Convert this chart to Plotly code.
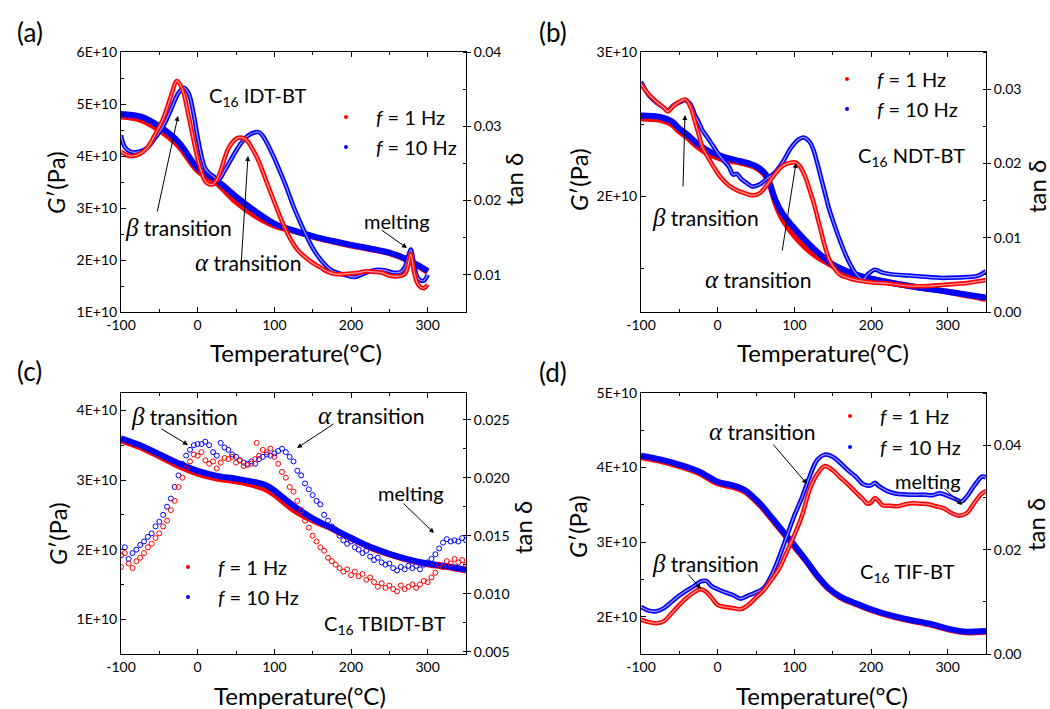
import plotly.graph_objects as go

W, H = 1050, 709
RED = '#ff0000'
BLUE = '#0000ff'
FONT = 'Lato'

# ---------------- Panel (a): C16 IDT-BT ----------------
Ta_G = [-100, -75, -50, -25, 0, 25, 50, 75, 100, 125, 150, 175, 200, 225, 250, 275, 290, 300]
Ga_1Hz = [4.76e10, 4.70e10, 4.50e10, 4.20e10, 3.72e10, 3.48e10, 3.12e10, 2.85e10, 2.66e10, 2.56e10,
          2.45e10, 2.36e10, 2.28e10, 2.21e10, 2.13e10, 1.99e10, 1.86e10, 1.77e10]
Ga_10Hz = [4.81e10, 4.76e10, 4.57e10, 4.27e10, 3.77e10, 3.53e10, 3.22e10, 2.94e10, 2.70e10, 2.57e10,
           2.46e10, 2.37e10, 2.29e10, 2.22e10, 2.14e10, 2.00e10, 1.88e10, 1.79e10]
Ta_tan1 = [-100, -92, -85, -75, -65, -55, -45, -35, -27, -20, -12, -5, 0, 5, 10, 15, 20, 25, 30, 40,
           50, 55, 60, 65, 70, 75, 80, 90, 100, 110, 120, 130, 140, 150, 160, 170, 180, 190, 200, 210,
           220, 230, 240, 250, 260, 270, 275, 278, 282, 286, 290, 295, 300]
tana_1Hz = [0.0266, 0.0261, 0.0260, 0.0263, 0.0272, 0.0290, 0.0310, 0.0340, 0.0361, 0.0350, 0.0315,
            0.0280, 0.0256, 0.0238, 0.0226, 0.0222, 0.0222, 0.0228, 0.0240, 0.0270, 0.0283, 0.0285,
            0.0284, 0.0280, 0.0272, 0.0263, 0.0252, 0.0225, 0.0198, 0.0172, 0.0150, 0.0134, 0.0124,
            0.0116, 0.0110, 0.0104, 0.0101, 0.0101, 0.0102, 0.0103, 0.0105, 0.0104, 0.0103, 0.0099,
            0.0098, 0.0101, 0.0115, 0.0128, 0.0105, 0.0090, 0.0084, 0.0082, 0.0087]
Ta_tan10 = [-100, -95, -88, -75, -65, -55, -45, -35, -25, -18, -12, -5, 0, 5, 10, 15, 20, 27, 35, 45,
            55, 65, 75, 80, 85, 95, 105, 115, 125, 135, 145, 155, 165, 175, 185, 195, 205, 215, 225,
            235, 245, 255, 265, 270, 275, 278, 282, 286, 290, 295, 300]
tana_10Hz = [0.0288, 0.0272, 0.0266, 0.0266, 0.0272, 0.0285, 0.0300, 0.0322, 0.0345, 0.0352, 0.0345,
             0.0315, 0.0285, 0.0260, 0.0243, 0.0237, 0.0233, 0.0228, 0.0240, 0.0258, 0.0275, 0.0287,
             0.0292, 0.0292, 0.0287, 0.0268, 0.0245, 0.0220, 0.0192, 0.0168, 0.0146, 0.0128, 0.0115,
             0.0106, 0.0102, 0.0099, 0.0097, 0.0101, 0.0105, 0.0107, 0.0106, 0.0103, 0.0104, 0.0110,
             0.0126, 0.0134, 0.0115, 0.0098, 0.0093, 0.0092, 0.0100]

# ---------------- Panel (b): C16 NDT-BT ----------------
Tb_G = [-100, -75, -60, -50, -40, -25, -10, 0, 10, 25, 40, 50, 60, 65, 70, 75, 85, 100, 125, 150,
        175, 200, 250, 300, 350]
Gb_1Hz = [2.54e10, 2.53e10, 2.50e10, 2.45e10, 2.41e10, 2.34e10, 2.29e10, 2.27e10, 2.25e10, 2.24e10,
          2.22e10, 2.20e10, 2.16e10, 2.12e10, 2.05e10, 1.96e10, 1.84e10, 1.73e10, 1.60e10, 1.52e10,
          1.46e10, 1.43e10, 1.38e10, 1.34e10, 1.29e10]
Gb_10Hz = [2.56e10, 2.55e10, 2.52e10, 2.47e10, 2.43e10, 2.36e10, 2.31e10, 2.29e10, 2.27e10, 2.25e10,
           2.23e10, 2.21e10, 2.17e10, 2.13e10, 2.06e10, 1.98e10, 1.88e10, 1.78e10, 1.64e10, 1.53e10,
           1.47e10, 1.43e10, 1.38e10, 1.34e10, 1.30e10]
Tb_tan1 = [-100, -90, -80, -70, -65, -58, -50, -42, -35, -30, -25, -20, -12, -5, 5, 15, 25, 35, 45,
           55, 65, 75, 85, 95, 102, 108, 115, 120, 125, 130, 135, 140, 145, 150, 160, 170, 180, 200,
           225, 250, 275, 300, 325, 350]
tanb_1Hz = [0.0307, 0.0293, 0.0283, 0.0275, 0.0270, 0.0277, 0.0283, 0.0286, 0.0275, 0.0258, 0.0240,
            0.0222, 0.0207, 0.0195, 0.0180, 0.0170, 0.0164, 0.0160, 0.0157, 0.0160, 0.0172, 0.0186,
            0.0197, 0.0201, 0.0201, 0.0195, 0.0180, 0.0164, 0.0148, 0.0128, 0.0108, 0.0088, 0.0072,
            0.0062, 0.0050, 0.0046, 0.0043, 0.0040, 0.0038, 0.0035, 0.0035, 0.0037, 0.0039, 0.0043]
Tb_tan10 = [-100, -90, -80, -70, -65, -58, -50, -42, -35, -30, -25, -20, -12, -5, 5, 15, 20, 25, 30,
            40, 45, 55, 65, 75, 85, 95, 105, 112, 120, 125, 130, 135, 140, 145, 150, 160, 170, 180,
            190, 195, 205, 215, 225, 250, 275, 290, 300, 325, 340, 350]
tanb_10Hz = [0.0310, 0.0292, 0.0282, 0.0275, 0.0271, 0.0278, 0.0282, 0.0285, 0.0279, 0.0266, 0.0256,
             0.0245, 0.0233, 0.0222, 0.0207, 0.0195, 0.0185, 0.0186, 0.0180, 0.0172, 0.0169, 0.0172,
             0.0180, 0.0188, 0.0202, 0.0220, 0.0232, 0.0235, 0.0229, 0.0218, 0.0200, 0.0180, 0.0160,
             0.0140, 0.0124, 0.0095, 0.0070, 0.0052, 0.0044, 0.0050, 0.0057, 0.0053, 0.0051, 0.0049,
             0.0047, 0.0046, 0.0046, 0.0047, 0.0049, 0.0055]

# ---------------- Panel (c): C16 TBIDT-BT ----------------
Tc_G = [-100, -75, -50, -25, 0, 25, 50, 75, 90, 100, 125, 150, 175, 200, 225, 250, 275, 300, 325, 350]
Gc_1Hz = [3.57e10, 3.47e10, 3.34e10, 3.20e10, 3.09e10, 3.02e10, 2.98e10, 2.92e10, 2.86e10, 2.79e10,
          2.57e10, 2.42e10, 2.30e10, 2.16e10, 2.03e10, 1.93e10, 1.85e10, 1.79e10, 1.75e10, 1.70e10]
Gc_10Hz = [3.60e10, 3.50e10, 3.37e10, 3.24e10, 3.13e10, 3.06e10, 3.02e10, 2.97e10, 2.92e10, 2.85e10,
           2.63e10, 2.45e10, 2.31e10, 2.17e10, 2.04e10, 1.94e10, 1.86e10, 1.80e10, 1.76e10, 1.71e10]
Tc_tan1 = [-100, -95, -90, -85, -80, -75, -70, -65, -60, -55, -50, -45, -40, -35, -30, -25, -20, -15,
           -10, -5, 0, 5, 10, 15, 20, 25, 30, 35, 40, 45, 50, 55, 60, 65, 70, 75, 77, 80, 85, 90, 95,
           100, 105, 110, 115, 120, 125, 130, 135, 140, 145, 150, 155, 160, 165, 170, 175, 180, 185,
           190, 195, 200, 205, 210, 215, 220, 225, 230, 235, 240, 245, 250, 255, 260, 265, 270, 275,
           280, 285, 290, 295, 300, 305, 310, 315, 320, 325, 330, 335, 340, 345, 350]
tanc_1Hz = [0.0123, 0.0135, 0.0126, 0.0122, 0.0128, 0.0131, 0.0135, 0.0140, 0.0143, 0.0148, 0.0152,
            0.0158, 0.0163, 0.0172, 0.0180, 0.0192, 0.0200, 0.0208, 0.0214, 0.0220, 0.0219, 0.0222,
            0.0215, 0.0212, 0.0214, 0.0208, 0.0213, 0.0217, 0.0216, 0.0218, 0.0213, 0.0215, 0.0210,
            0.0211, 0.0212, 0.0216, 0.0230, 0.0219, 0.0224, 0.0222, 0.0225, 0.0218, 0.0212, 0.0205,
            0.0200, 0.0192, 0.0188, 0.0180, 0.0172, 0.0163, 0.0157, 0.0150, 0.0145, 0.0140, 0.0137,
            0.0131, 0.0128, 0.0125, 0.0122, 0.0119, 0.0121, 0.0116, 0.0119, 0.0115, 0.0117, 0.0112,
            0.0114, 0.0110, 0.0106, 0.0109, 0.0105, 0.0107, 0.0104, 0.0102, 0.0107, 0.0104, 0.0106,
            0.0108, 0.0105, 0.0108, 0.0111, 0.0110, 0.0114, 0.0118, 0.0125, 0.0123, 0.0128, 0.0126,
            0.0130, 0.0127, 0.0129, 0.0125]
Tc_tan10 = [-100, -95, -90, -85, -80, -75, -70, -65, -60, -55, -50, -45, -40, -35, -30, -25, -20, -15,
            -10, -5, 0, 5, 10, 15, 20, 25, 30, 35, 40, 45, 50, 55, 60, 65, 70, 75, 80, 85, 90, 95,
            100, 105, 110, 115, 120, 125, 130, 135, 140, 145, 150, 155, 160, 165, 170, 175, 180, 185,
            190, 195, 200, 205, 210, 215, 220, 225, 230, 235, 240, 245, 250, 255, 260, 265, 270, 275,
            280, 285, 290, 295, 300, 305, 310, 315, 320, 325, 330, 335, 340, 345, 350]
tanc_10Hz = [0.0133, 0.0140, 0.0130, 0.0135, 0.0138, 0.0142, 0.0145, 0.0149, 0.0152, 0.0158, 0.0162,
             0.0168, 0.0175, 0.0182, 0.0192, 0.0202, 0.0212, 0.0219, 0.0224, 0.0228, 0.0229, 0.0229,
             0.0231, 0.0228, 0.0222, 0.0219, 0.0230, 0.0226, 0.0224, 0.0220, 0.0218, 0.0215, 0.0213,
             0.0212, 0.0214, 0.0212, 0.0216, 0.0218, 0.0220, 0.0219, 0.0221, 0.0223, 0.0225, 0.0222,
             0.0218, 0.0214, 0.0206, 0.0202, 0.0195, 0.0190, 0.0185, 0.0180, 0.0177, 0.0168, 0.0163,
             0.0158, 0.0155, 0.0150, 0.0146, 0.0143, 0.0145, 0.0140, 0.0138, 0.0135, 0.0137, 0.0132,
             0.0129, 0.0131, 0.0127, 0.0125, 0.0126, 0.0122, 0.0120, 0.0123, 0.0121, 0.0124, 0.0122,
             0.0124, 0.0121, 0.0125, 0.0127, 0.0130, 0.0134, 0.0139, 0.0144, 0.0147, 0.0145, 0.0146,
             0.0145, 0.0148, 0.0146]

# ---------------- Panel (d): C16 TIF-BT ----------------
Td_G = [-100, -75, -50, -25, 0, 20, 35, 45, 55, 65, 80, 100, 115, 130, 145, 160, 180, 200, 225, 250,
        275, 300, 315, 325, 350]
Gd_1Hz = [4.14e10, 4.09e10, 4.02e10, 3.93e10, 3.79e10, 3.74e10, 3.68e10, 3.60e10, 3.50e10, 3.38e10,
          3.19e10, 2.94e10, 2.75e10, 2.54e10, 2.37e10, 2.26e10, 2.17e10, 2.09e10, 2.01e10, 1.95e10,
          1.90e10, 1.83e10, 1.80e10, 1.79e10, 1.80e10]
Gd_10Hz = [4.16e10, 4.11e10, 4.04e10, 3.95e10, 3.81e10, 3.76e10, 3.70e10, 3.62e10, 3.52e10, 3.40e10,
           3.21e10, 2.96e10, 2.76e10, 2.55e10, 2.38e10, 2.27e10, 2.18e10, 2.10e10, 2.02e10, 1.96e10,
           1.91e10, 1.84e10, 1.81e10, 1.80e10, 1.81e10]
Td_tan1 = [-100, -90, -80, -70, -60, -50, -40, -30, -22, -15, -8, 0, 10, 20, 30, 40, 50, 60, 70, 80,
           90, 100, 110, 120, 130, 140, 150, 160, 170, 180, 190, 195, 200, 205, 210, 215, 225, 235,
           245, 255, 265, 275, 285, 295, 305, 315, 325, 335, 345, 350]
tand_1Hz = [0.0066, 0.0061, 0.0059, 0.0063, 0.0078, 0.0094, 0.0108, 0.0119, 0.0124, 0.0119, 0.0108,
            0.0094, 0.0090, 0.0088, 0.0086, 0.0094, 0.0108, 0.0122, 0.0142, 0.0163, 0.0195, 0.0228,
            0.0265, 0.0315, 0.0345, 0.0360, 0.0352, 0.0338, 0.0325, 0.0310, 0.0296, 0.0288, 0.0290,
            0.0299, 0.0293, 0.0285, 0.0284, 0.0283, 0.0287, 0.0289, 0.0288, 0.0287, 0.0283, 0.0279,
            0.0270, 0.0265, 0.0270, 0.0290, 0.0308, 0.0312]
Td_tan10 = [-100, -90, -80, -70, -60, -50, -40, -30, -22, -15, -8, 0, 10, 20, 30, 40, 50, 60, 70, 80,
            90, 100, 110, 120, 130, 140, 150, 160, 170, 180, 190, 200, 205, 210, 220, 230, 240, 250,
            260, 270, 280, 290, 300, 310, 318, 325, 335, 345, 350]
tand_10Hz = [0.0090, 0.0083, 0.0082, 0.0088, 0.0100, 0.0112, 0.0122, 0.0131, 0.0139, 0.0140, 0.0130,
             0.0124, 0.0118, 0.0113, 0.0106, 0.0112, 0.0118, 0.0126, 0.0150, 0.0185, 0.0225, 0.0265,
             0.0300, 0.0340, 0.0372, 0.0382, 0.0378, 0.0366, 0.0352, 0.0340, 0.0325, 0.0323, 0.0328,
             0.0322, 0.0313, 0.0308, 0.0306, 0.0305, 0.0305, 0.0305, 0.0304, 0.0308, 0.0303, 0.0297,
             0.0292, 0.0302, 0.0323, 0.0340, 0.0338]

# ---------------- axis tick labels ----------------
x_ticks = [-100, 0, 100, 200, 300]
ya_ticks = [1e10, 2e10, 3e10, 4e10, 5e10, 6e10]
ya_text = ['1E+10', '2E+10', '3E+10', '4E+10', '5E+10', '6E+10']
ya2_ticks = [0.01, 0.02, 0.03, 0.04]
ya2_text = ['0.01', '0.02', '0.03', '0.04']
yb_ticks = [2e10, 3e10]
yb_text = ['2E+10', '3E+10']
yb2_ticks = [0.0, 0.01, 0.02, 0.03]
yb2_text = ['0.00', '0.01', '0.02', '0.03']
yc_ticks = [1e10, 2e10, 3e10, 4e10]
yc_text = ['1E+10', '2E+10', '3E+10', '4E+10']
yc2_ticks = [0.005, 0.010, 0.015, 0.020, 0.025]
yc2_text = ['0.005', '0.010', '0.015', '0.020', '0.025']
yd_ticks = [2e10, 3e10, 4e10, 5e10]
yd_text = ['2E+10', '3E+10', '4E+10', '5E+10']
yd2_ticks = [0.0, 0.02, 0.04]
yd2_text = ['0.00', '0.02', '0.04']


def PX(x):
    return x / W


def PY(y):
    return 1 - y / H


fig = go.Figure()

panels = [
    dict(xa='x', y1='y', y2='y2', leg=('legend', 'legend2'),
         G=(Ta_G, Ga_1Hz, Ga_10Hz), tan=(Ta_tan1, tana_1Hz, Ta_tan10, tana_10Hz), scatter=False),
    dict(xa='x2', y1='y3', y2='y4', leg=('legend3', 'legend4'),
         G=(Tb_G, Gb_1Hz, Gb_10Hz), tan=(Tb_tan1, tanb_1Hz, Tb_tan10, tanb_10Hz), scatter=False),
    dict(xa='x3', y1='y5', y2='y6', leg=('legend5', 'legend6'),
         G=(Tc_G, Gc_1Hz, Gc_10Hz), tan=(Tc_tan1, tanc_1Hz, Tc_tan10, tanc_10Hz), scatter=True),
    dict(xa='x4', y1='y7', y2='y8', leg=('legend7', 'legend8'),
         G=(Td_G, Gd_1Hz, Gd_10Hz), tan=(Td_tan1, tand_1Hz, Td_tan10, tand_10Hz), scatter=False),
]

for p in panels:
    TG, G1, G10 = p['G']
    fig.add_trace(go.Scatter(x=TG, y=G1, xaxis=p['xa'], yaxis=p['y1'], mode='lines',
                             line=dict(color=RED, width=6, shape='spline'), showlegend=False))
    fig.add_trace(go.Scatter(x=TG, y=G10, xaxis=p['xa'], yaxis=p['y1'], mode='lines',
                             line=dict(color=BLUE, width=6, shape='spline'), showlegend=False))
    T1, t1, T10, t10 = p['tan']
    for T, t, c in [(T10, t10, BLUE), (T1, t1, RED)]:
        if p['scatter']:
            fig.add_trace(go.Scatter(x=T, y=t, xaxis=p['xa'], yaxis=p['y2'], mode='markers',
                                     marker=dict(symbol='circle-open', size=5, color=c,
                                                 line=dict(width=1, color=c)),
                                     showlegend=False))
        else:
            # hollow "tube" look of densely packed open circles
            fig.add_trace(go.Scatter(x=T, y=t, xaxis=p['xa'], yaxis=p['y2'], mode='lines',
                                     line=dict(color=c, width=4.5, shape='spline'),
                                     showlegend=False))
            fig.add_trace(go.Scatter(x=T, y=t, xaxis=p['xa'], yaxis=p['y2'], mode='lines',
                                     line=dict(color='rgba(255,255,255,0.6)', width=1.2, shape='spline'),
                                     showlegend=False))
    # legend-only entries
    fig.add_trace(go.Scatter(x=[None], y=[None], xaxis=p['xa'], yaxis=p['y1'], mode='markers',
                             marker=dict(color=RED, size=4), name='<i>f</i> = 1 Hz',
                             legend=p['leg'][0], showlegend=True))
    fig.add_trace(go.Scatter(x=[None], y=[None], xaxis=p['xa'], yaxis=p['y1'], mode='markers',
                             marker=dict(color=BLUE, size=4), name='<i>f</i> = 10 Hz',
                             legend=p['leg'][1], showlegend=True))

tickfont = dict(family=FONT, size=14, color='black')


def xaxis(dom, anchor):
    return dict(domain=dom, anchor=anchor, range=[-100, 350], tickvals=x_ticks,
                ticktext=[str(v) for v in x_ticks], ticks='inside', ticklen=5, tickwidth=1,
                tickcolor='black', showline=True, linecolor='black', linewidth=1, mirror='ticks',
                showgrid=False, zeroline=False, tickfont=tickfont, automargin=False,
                minor=dict(ticks='inside', ticklen=3, dtick=50, tick0=-100, tickcolor='black', showgrid=False))


def yleft(dom, anchor, rng, tv, tt, mdt):
    return dict(domain=dom, anchor=anchor, range=rng, tickvals=tv, ticktext=tt, ticks='inside',
                ticklen=5, tickwidth=1, tickcolor='black', showline=True, linecolor='black',
                linewidth=1, showgrid=False, zeroline=False, tickfont=tickfont, automargin=False,
                minor=dict(ticks='inside', ticklen=3, dtick=mdt, tick0=0, tickcolor='black', showgrid=False))


def yright(overlay, anchor, rng, tv, tt, mdt):
    return dict(overlaying=overlay, anchor=anchor, side='right', range=rng, tickvals=tv, ticktext=tt,
                ticks='outside', ticklen=4, tickwidth=1, tickcolor='black', showline=True,
                linecolor='black', linewidth=1, showgrid=False, zeroline=False, tickfont=tickfont,
                automargin=False,
                minor=dict(ticks='inside', ticklen=3, dtick=mdt, tick0=0, tickcolor='black', showgrid=False))


xa_dom = [PX(121), PX(466)]
xb_dom = [PX(641), PX(986)]
ytop_dom = [PY(312), PY(52)]
ybot_dom = [PY(654), PY(393)]

layout = dict(
    width=W, height=H, margin=dict(l=0, r=0, t=0, b=0, pad=0, autoexpand=False),
    paper_bgcolor='white', plot_bgcolor='white',
    font=dict(family=FONT, color='black'),
    xaxis=xaxis(xa_dom, 'y'),
    xaxis2=xaxis(xb_dom, 'y3'),
    xaxis3=xaxis(xa_dom, 'y5'),
    xaxis4=xaxis(xb_dom, 'y7'),
    yaxis=yleft(ytop_dom, 'x', [1e10, 6e10], ya_ticks, ya_text, 0.5e10),
    yaxis2=yright('y', 'x', [0.005, 0.04], ya2_ticks, ya2_text, 0.005),
    yaxis3=yleft(ytop_dom, 'x2', [1.2e10, 3e10], yb_ticks, yb_text, 0.5e10),
    yaxis4=yright('y3', 'x2', [0.0, 0.035], yb2_ticks, yb2_text, 0.005),
    yaxis5=yleft(ybot_dom, 'x3', [0.5e10, 4.25e10], yc_ticks, yc_text, 0.5e10),
    yaxis6=yright('y5', 'x3', [0.0048, 0.0273], yc2_ticks, yc2_text, 0.0025),
    yaxis7=yleft(ybot_dom, 'x4', [1.5e10, 5e10], yd_ticks, yd_text, 0.5e10),
    yaxis8=yright('y7', 'x4', [0.0, 0.05], yd2_ticks, yd2_text, 0.01),
)

# legends (one per item); dot position in page pixels
leg_pos = {
    'legend': (346, 117), 'legend2': (346, 147),
    'legend3': (847, 79), 'legend4': (847, 109),
    'legend5': (188, 567), 'legend6': (188, 597),
    'legend7': (850, 416), 'legend8': (850, 447),
}
for k, (lx, ly) in leg_pos.items():
    layout[k] = dict(x=PX(lx - 30), y=PY(ly), xanchor='left', yanchor='middle',
                     bgcolor='rgba(0,0,0,0)', borderwidth=0, itemwidth=50,
                     font=dict(family=FONT, size=20, color='black'))

fig.update_layout(**layout)

ann = []


def text(x, y, s, size=20, angle=0):
    ann.append(dict(x=PX(x), y=PY(y), xref='paper', yref='paper', text=s, showarrow=False,
                    xanchor='center', yanchor='middle', textangle=angle,
                    font=dict(family=FONT, size=size, color='black')))


def arrow(tx, ty, hx, hy):
    ann.append(dict(x=PX(hx), y=PY(hy), xref='paper', yref='paper', text='', showarrow=True,
                    ax=tx - hx, ay=ty - hy, arrowhead=2, arrowsize=1, arrowwidth=1,
                    arrowcolor='black', standoff=0, startstandoff=0))


GREEK = '<span style="font-family:\'Liberation Serif\'; font-size:25px"><i>%s</i></span>'
beta = GREEK % 'β' + ' transition'
alpha = GREEK % 'α' + ' transition'

# panel labels
for lbl, (x, y) in zip(['(a)', '(b)', '(c)', '(d)'], [(30, 32), (553, 32), (29, 371), (553, 372)]):
    text(x, y, lbl, size=26)

# axis titles
for (x, y) in [(296, 352), (823, 352), (300, 695), (822, 695)]:
    text(x, y, 'Temperature(°C)', size=24)
for (x, y) in [(55, 183), (578, 180), (57, 534), (577, 527)]:
    text(x, y, '<i>G</i>′(Pa)', size=24, angle=-90)
for (x, y) in [(513, 180), (1036, 187), (522, 528), (1035, 525)]:
    text(x, y, 'tan δ', size=24, angle=-90)

# panel (a)
text(258, 96, 'C<sub>16</sub> IDT-BT', size=20)
text(178, 228, beta, size=21)
text(248, 262, alpha, size=21)
text(397, 221, 'melting', size=20)
arrow(157, 213, 178, 116)
arrow(241, 266, 248, 156)
arrow(380, 229, 407, 248)

# panel (b)
text(911, 156, 'C<sub>16</sub> NDT-BT', size=20)
text(705, 218, beta, size=21)
text(758, 279, alpha, size=21)
arrow(683, 188, 685, 115)
arrow(782, 252, 796, 163)

# panel (c)
text(184, 416, beta, size=21)
text(371, 415, alpha, size=21)
text(411, 493, 'melting', size=20)
text(385, 624, 'C<sub>16</sub> TBIDT-BT', size=20)
arrow(160, 428, 188, 445)
arrow(335, 423, 297, 448)
arrow(402, 502, 434, 533)

# panel (d)
text(762, 431, alpha, size=21)
text(705, 563, beta, size=21)
text(928, 481, 'melting', size=20)
text(907, 572, 'C<sub>16</sub> TIF-BT', size=20)
arrow(772, 443, 807, 484)
arrow(687, 573, 701, 589)
arrow(943, 487, 962, 505)

fig.update_layout(annotations=ann)
# remove the browser's default 8px page margin so the 1050x709 figure fills the window exactly
fig.write_html('out.html',
               config={'displayModeBar': False},
               post_script="document.body.style.margin='0';document.body.style.overflow='hidden';")
